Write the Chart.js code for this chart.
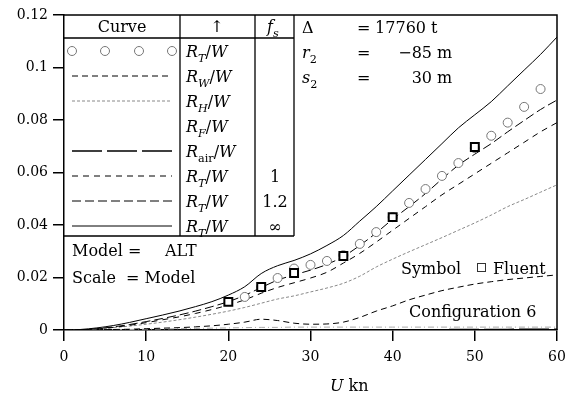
<!DOCTYPE html>
<html>
<head>
<meta charset="utf-8">
<script src="https://cdn.jsdelivr.net/npm/chart.js@4/dist/chart.umd.min.js"></script>
<style>
  html, body { margin: 0; background: #fff; }
  #wrap { width: 567px; height: 396px; }
</style>
</head>
<body>
<div id="wrap"><canvas id="c"></canvas></div>
<script>
// speed U (kn) shared by all curves
const speeds = [0,2,4,6,8,10,12,14,16,18,20,22,24,26,28,30,32,34,36,38,40,42,44,46,48,50,52,54,56,58,60];

// R_T/W, f_s = infinity (solid)
const rtInf = [0,0.0002,0.0008,0.0017,0.0029,0.0043,0.0057,0.0072,0.0089,0.0108,0.0133,0.0165,0.0215,0.0245,0.0265,0.029,0.0322,0.036,0.0415,0.047,0.053,0.059,0.065,0.071,0.077,0.082,0.087,0.093,0.099,0.105,0.1116];
// R_T/W, f_s = 1.2
const rt12 = [0,0.0001,0.0005,0.0012,0.0021,0.0032,0.0044,0.0057,0.0072,0.0089,0.0108,0.0132,0.0162,0.019,0.021,0.0228,0.025,0.028,0.0322,0.037,0.0422,0.047,0.052,0.0575,0.0628,0.067,0.071,0.0755,0.0798,0.084,0.0876];
// R_T/W, f_s = 1
const rt1 = [0,0.0001,0.0004,0.001,0.0018,0.0028,0.0039,0.005,0.0063,0.0078,0.0095,0.0115,0.014,0.0162,0.018,0.0198,0.022,0.0255,0.0292,0.0335,0.038,0.0425,0.047,0.0515,0.0555,0.0595,0.0635,0.0675,0.0715,0.0755,0.079];
// R_H/W
const rh = [0,0.0001,0.0004,0.0009,0.0015,0.0022,0.003,0.0039,0.0049,0.006,0.0072,0.0086,0.0102,0.0118,0.013,0.0145,0.016,0.0178,0.0205,0.024,0.027,0.0298,0.0325,0.0352,0.038,0.0408,0.0438,0.047,0.0497,0.0525,0.0553];
// R_W/W
const rw = [0,0,0.0001,0.0002,0.0003,0.0005,0.0007,0.0009,0.0012,0.0016,0.0022,0.003,0.0041,0.0036,0.0026,0.0022,0.0023,0.003,0.0048,0.0072,0.0092,0.0115,0.0133,0.015,0.0163,0.0175,0.0184,0.0192,0.0198,0.0204,0.021];
// R_F/W (faint line near the axis)
const rf = [0,0,0.0001,0.0001,0.0002,0.0003,0.0004,0.0005,0.0006,0.0007,0.0008,0.0009,0.001,0.001,0.0011,0.0011,0.0011,0.0011,0.0011,0.0011,0.0011,0.0011,0.0011,0.0011,0.0011,0.0011,0.0011,0.0011,0.0011,0.0011,0.0011];
// R_air/W
const rair = [0,0,0,0,0,0,0,0,0,0,0,0,0,0,0,0,0,0,0,0,0.0001,0.0001,0.0001,0.0001,0.0002,0.0002,0.0002,0.0002,0.0003,0.0003,0.0003];

// R_T/W symbols (circles)
const circU = [22,24,26,28,30,32,34,36,38,40,42,44,46,48,50,52,54,56,58];
const circV = [0.0126,0.0163,0.0198,0.0234,0.0248,0.0263,0.0285,0.0328,0.0373,0.043,0.0484,0.0537,0.0587,0.0636,0.0693,0.074,0.079,0.085,0.0918];
// Fluent results (squares)
const fluentU = [20,24,28,34,40,50];
const fluentV = [0.0107,0.0164,0.0217,0.0282,0.043,0.0697];

const xTicks = [0,10,20,30,40,50,60];
const yTicks = [0,0.02,0.04,0.06,0.08,0.1,0.12];

const SERIF = '"DejaVu Serif", "Liberation Serif", serif';

const styles = {
  rw:   { color: '#000', width: 1,   dash: [6, 4] },
  rh:   { color: '#888', width: 1,   dash: [3, 2] },
  rf:   { color: '#aaa', width: 1,   dash: [6, 3, 1, 3] },
  rair: { color: '#000', width: 1.6, dash: [30, 5] },
  rt1:  { color: '#000', width: 1,   dash: [6, 5] },
  rt12: { color: '#000', width: 1,   dash: [9, 4] },
  rtInf:{ color: '#000', width: 1,   dash: [] }
};

function pts(xs, ys) { return xs.map((x, i) => ({ x, y: ys[i] })); }

function lineSet(label, ys, st) {
  return {
    label, data: pts(speeds, ys), borderColor: st.color, borderWidth: st.width,
    borderDash: st.dash, pointRadius: 0, fill: false, tension: 0.25, cubicInterpolationMode: 'monotone'
  };
}

function drawParts(ctx, x, y, parts, size) {
  let cx = x;
  parts.forEach(p => {
    const fs = p.sub ? size * 0.7 : size;
    ctx.font = (p.it ? 'italic ' : '') + fs + 'px ' + SERIF;
    ctx.fillText(p.t, cx, y + (p.sub ? size * 0.3 : 0));
    cx += ctx.measureText(p.t).width;
  });
}

function rw_(sub, subIt) { return [{ t: 'R', it: true }, { t: sub, sub: true, it: subIt }, { t: '/', it: false }, { t: 'W', it: true }]; }

// legend rows: label, f_s, style key (null = no sample)
const legendRows = [
  { label: rw_('T', true),    fs: '',  key: 'circ' },
  { label: rw_('W', true),    fs: '',  key: 'rw' },
  { label: rw_('H', true),    fs: '',  key: 'rh' },
  { label: rw_('F', true),    fs: '',  key: null },
  { label: rw_('air', false), fs: '',  key: 'rair' },
  { label: rw_('T', true),    fs: '1', key: 'rt1' },
  { label: rw_('T', true),    fs: '1.2', key: 'rt12' },
  { label: rw_('T', true),    fs: '\u221E', key: 'rtInf' }
];

const overlay = {
  id: 'overlay',
  afterDraw(chart) {
    const { ctx, chartArea: a } = chart;
    ctx.save();
    ctx.strokeStyle = '#000';
    ctx.lineWidth = 1.5;
    ctx.setLineDash([]);
    ctx.beginPath();
    ctx.moveTo(a.left, a.top); ctx.lineTo(a.right, a.top); ctx.lineTo(a.right, a.bottom);
    ctx.stroke();

    // legend table
    const c1 = 180, c2 = 255, c3 = 294, hb = 38, tb = 236;
    ctx.lineWidth = 1.3;
    ctx.beginPath();
    [c1, c2, c3].forEach(x => { ctx.moveTo(x, a.top); ctx.lineTo(x, tb); });
    ctx.moveTo(a.left, hb); ctx.lineTo(c3, hb);
    ctx.moveTo(a.left, tb); ctx.lineTo(c3, tb);
    ctx.stroke();

    ctx.fillStyle = '#000';
    ctx.textBaseline = 'alphabetic';
    ctx.font = '16px ' + SERIF;
    ctx.textAlign = 'center';
    ctx.fillText('Curve', 122, 32);
    ctx.fillText('\u2191', 217, 32);
    ctx.textAlign = 'left';
    drawParts(ctx, 267, 32, [{ t: 'f', it: true }, { t: 's', it: true, sub: true }], 16);

    legendRows.forEach((r, i) => {
      const cy = 51 + 25 * i;
      drawParts(ctx, 186, cy + 6, r.label, 16);
      if (r.fs) {
        ctx.font = '16px ' + SERIF;
        ctx.textAlign = 'center';
        ctx.fillText(r.fs, 275, cy + 6);
        ctx.textAlign = 'left';
      }
      if (r.key === 'circ') {
        ctx.strokeStyle = '#777'; ctx.lineWidth = 1; ctx.setLineDash([]);
        [72, 105, 139, 172].forEach(x => { ctx.beginPath(); ctx.arc(x, cy, 4.5, 0, Math.PI * 2); ctx.stroke(); });
      } else if (r.key) {
        const st = styles[r.key];
        ctx.strokeStyle = st.color; ctx.lineWidth = st.width; ctx.setLineDash(st.dash);
        ctx.beginPath(); ctx.moveTo(72, cy); ctx.lineTo(172, cy); ctx.stroke();
      }
    });
    ctx.setLineDash([]);

    ctx.font = '16px ' + SERIF;
    ctx.fillText('Model =', 72, 256);
    ctx.fillText('ALT', 165, 256);
    ctx.fillText('Scale', 72, 283);
    ctx.fillText('= Model', 126, 283);

    ctx.fillText('\u0394', 302, 33);
    ctx.fillText('=', 357, 33);
    drawParts(ctx, 302, 58, [{ t: 'r', it: true }, { t: '2', sub: true }], 16);
    drawParts(ctx, 302, 83, [{ t: 's', it: true }, { t: '2', sub: true }], 16);
    ctx.font = '16px ' + SERIF;
    ctx.fillText('=', 357, 58);
    ctx.fillText('=', 357, 83);
    ctx.fillText('t', 431, 33);
    ctx.fillText('m', 437, 58);
    ctx.fillText('m', 437, 83);
    ctx.textAlign = 'right';
    ctx.fillText('17760', 426, 33);
    ctx.fillText('\u221285', 432, 58);
    ctx.fillText('30', 432, 83);
    ctx.textAlign = 'left';

    ctx.fillText('Symbol', 401, 274);
    ctx.lineWidth = 1; ctx.strokeStyle = '#333';
    ctx.strokeRect(477.5, 263.5, 8, 8);
    ctx.fillText('Fluent', 493, 274);
    ctx.fillText('Configuration 6', 409, 317);

    // x axis title
    drawParts(ctx, 330, 391, [{ t: 'U', it: true }, { t: ' kn' }], 16);
    ctx.restore();
  }
};

new Chart(document.getElementById('c'), {
  type: 'line',
  data: {
    datasets: [
      { label: 'Fluent', data: pts(fluentU, fluentV), showLine: false, pointStyle: 'rect',
        pointRadius: 5.6, pointBorderWidth: 2, pointBorderColor: '#000', pointBackgroundColor: '#fff' },
      { label: 'RT/W', data: pts(circU, circV), showLine: false, pointStyle: 'circle',
        pointRadius: 4.5, pointBorderWidth: 1, pointBorderColor: '#777', pointBackgroundColor: '#fff' },
      lineSet('RT/W inf', rtInf, styles.rtInf),
      lineSet('RT/W 1.2', rt12, styles.rt12),
      lineSet('RT/W 1', rt1, styles.rt1),
      lineSet('RH/W', rh, styles.rh),
      lineSet('RW/W', rw, styles.rw),
      lineSet('RF/W', rf, styles.rf),
      lineSet('Rair/W', rair, styles.rair)
    ]
  },
  options: {
    responsive: true,
    maintainAspectRatio: false,
    animation: false,
    devicePixelRatio: 1,
    layout: { padding: { top: 15, right: 10, left: 0, bottom: 0 } },
    plugins: { legend: { display: false }, tooltip: { enabled: false } },
    scales: {
      x: {
        type: 'linear', min: 0, max: 60,
        afterBuildTicks: s => { s.ticks = xTicks.map(v => ({ value: v })); },
        afterFit: s => { s.height = 66; s.paddingLeft = 0; s.paddingRight = 0; },
        ticks: { color: '#000', font: { family: SERIF, size: 14 }, padding: 8, maxRotation: 0 },
        grid: { drawOnChartArea: false, drawTicks: true, tickLength: 11, color: '#000', lineWidth: 1.5 },
        border: { display: true, color: '#000', width: 1.5 }
      },
      y: {
        min: 0, max: 0.12,
        afterBuildTicks: s => { s.ticks = yTicks.map(v => ({ value: v })); },
        afterFit: s => { s.width = 64; s.paddingTop = 0; s.paddingBottom = 0; },
        ticks: { color: '#000', font: { family: SERIF, size: 14 }, padding: 5,
          callback: v => v === 0 ? '0' : String(+v.toFixed(2)) },
        grid: { drawOnChartArea: false, drawTicks: true, tickLength: 11, color: '#000', lineWidth: 1.5 },
        border: { display: true, color: '#000', width: 1.5 }
      }
    }
  },
  plugins: [overlay]
});
</script>
</body>
</html>
